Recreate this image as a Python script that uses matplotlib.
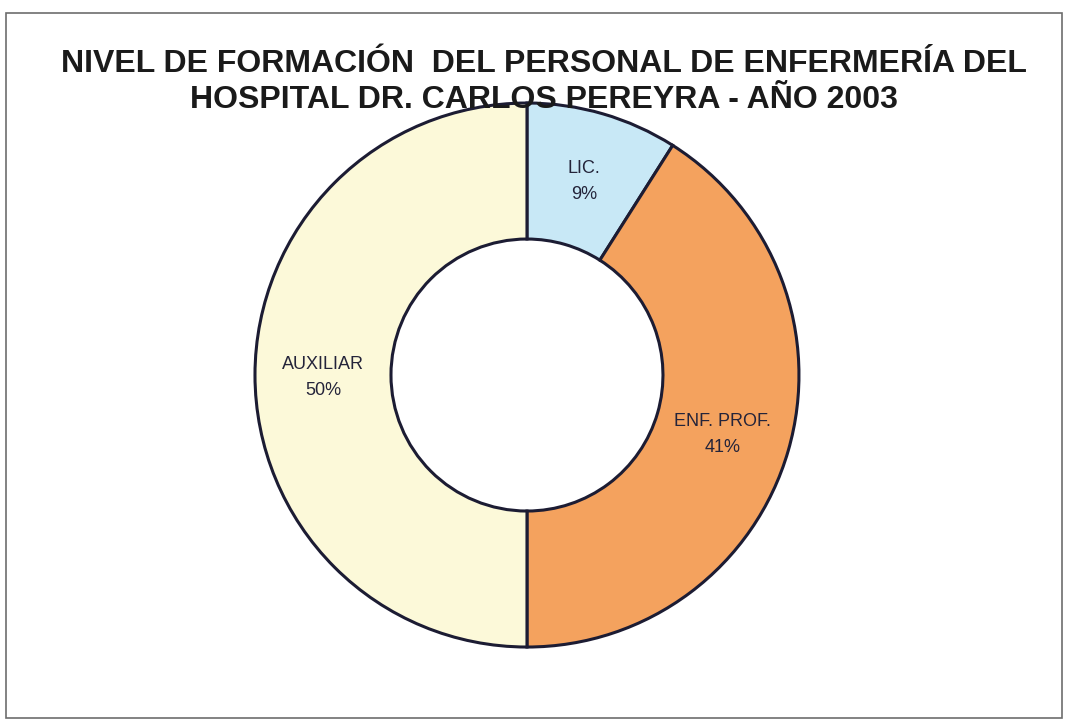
import numpy as np
import matplotlib.pyplot as plt
from matplotlib.patches import Rectangle

# Datos del gráfico (porcentajes)
categorias = ['LIC.', 'ENF. PROF.', 'AUXILIAR']
valores = [9, 41, 50]
colores = ['#c8e8f6', '#f4a25e', '#fcf9d9']

titulo = "NIVEL DE FORMACIÓN  DEL PERSONAL DE ENFERMERÍA DEL\nHOSPITAL DR. CARLOS PEREYRA - AÑO 2003"

plt.rcParams['font.family'] = ['Liberation Sans', 'DejaVu Sans']

fig = plt.figure(figsize=(10.66, 7.21), dpi=100)

# Marco exterior del gráfico
fig.patches.append(Rectangle((6 / 1066, 3 / 721), 1056 / 1066, 705 / 721,
                             transform=fig.transFigure, fill=False,
                             edgecolor='#6d6d6d', linewidth=1.2))

ax = fig.add_axes([0.2392, 0.1026, 0.5103, 0.7545])
wedges, _ = ax.pie(valores, colors=colores, startangle=90, counterclock=False,
                   radius=1.0, wedgeprops=dict(width=0.5, edgecolor='#1c1c33',
                                               linewidth=2.2))
ax.set_xlim(-1, 1)
ax.set_ylim(-1, 1)
ax.set_aspect('auto')
ax.axis('off')

# Etiquetas dentro de cada sector
for w, cat, val in zip(wedges, categorias, valores):
    ang = np.deg2rad((w.theta1 + w.theta2) / 2)
    ax.text(0.75 * np.cos(ang), 0.75 * np.sin(ang) - 0.01, f"{cat}\n{val}%",
            ha='center', va='center', fontsize=13, color='#24243a',
            linespacing=1.7)

fig.text(0.51, 0.886, titulo, ha='center', va='center', fontsize=23,
         fontweight='bold', color='#1a1a1a', linespacing=1.28)

plt.savefig("out.png", dpi=100)
